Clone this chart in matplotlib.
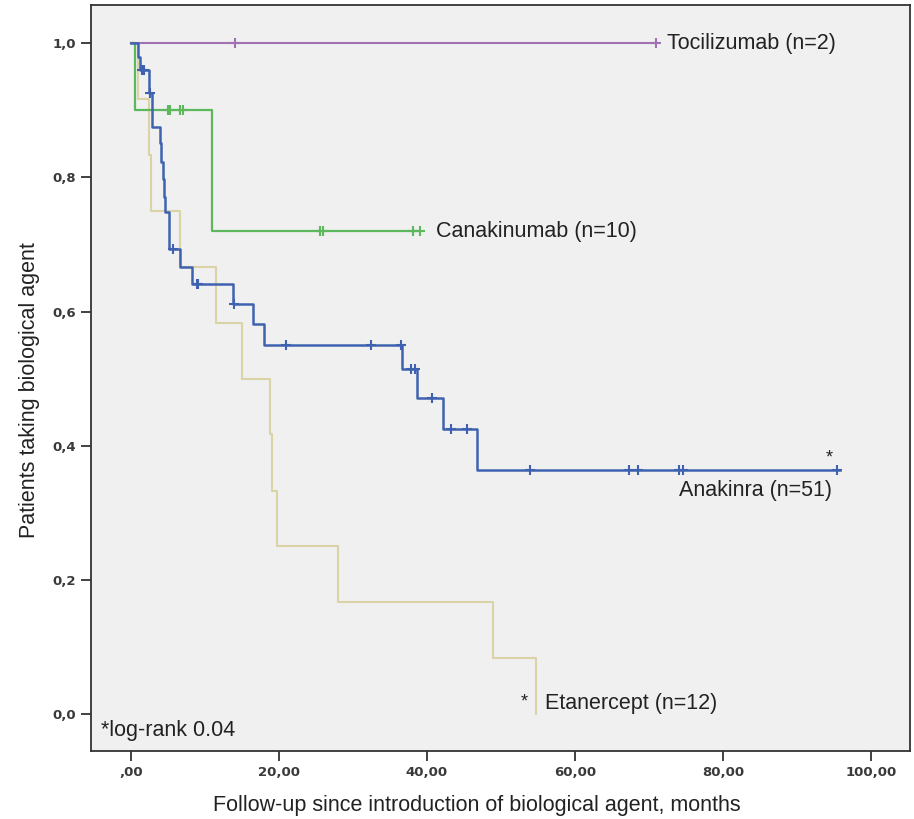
import numpy as np
import matplotlib
matplotlib.use("Agg")
import matplotlib.pyplot as plt

# ---- data (months, proportion still on drug)
toc_t = [0, 71.0]
toc_s = [1.0, 1.0]
toc_cens = [14.0, 71.0]

can_t = [0, 0.5, 10.9, 39.1]
can_s = [1.0, 0.9, 0.72, 0.72]
can_cens = [5.0, 5.3, 6.6, 7.1, 25.6, 25.9, 38.1, 39.1]

ana_t = [0, 0.9, 1.2, 2.5, 2.8, 3.9, 4.1, 4.3, 4.4, 4.6, 5.1, 6.6, 8.2,
         13.8, 16.5, 18.0, 36.6, 38.6, 42.2, 46.8, 95.8]
ana_s = [1.0, 0.98, 0.96, 0.926, 0.875, 0.851, 0.823, 0.797, 0.771, 0.748,
         0.694, 0.667, 0.641, 0.612, 0.581, 0.550, 0.514, 0.471, 0.425,
         0.364, 0.364]
ana_cens = [1.5, 1.7, 2.6, 5.7, 8.9, 9.1, 13.9, 21.0, 32.4, 36.5, 37.8,
            38.4, 40.7, 43.2, 45.4, 53.9, 67.3, 68.6, 74.1, 74.6, 95.4]

eta_t = [0, 1.0, 2.5, 2.7, 6.6, 11.5, 15.0, 18.8, 19.1, 19.7, 28.0, 48.9,
         54.8]
eta_s = [1.0, 0.917, 0.833, 0.75, 0.667, 0.583, 0.5, 0.417, 0.333, 0.25,
         0.167, 0.083, 0.0]

xticks = [0, 20, 40, 60, 80, 100]
xtick_labels = [",00", "20,00", "40,00", "60,00", "80,00", "100,00"]
yticks = [0.0, 0.2, 0.4, 0.6, 0.8, 1.0]
ytick_labels = ["0,0", "0,2", "0,4", "0,6", "0,8", "1,0"]

txt_font = ["Liberation Sans", "DejaVu Sans"]
fs = 15.5


def surv_at(times, surv, x):
    # value of the step function at time x
    i = np.searchsorted(times, x, side="right") - 1
    return np.asarray(surv)[i]


fig = plt.figure(figsize=(9.14, 8.19), dpi=100)
ax = fig.add_axes([91 / 914, 68 / 819, 819 / 914, 746 / 819])
ax.set_facecolor("#f0f0f0")

curves = [
    (eta_t, eta_s, None, "#d9d3a6", 1.5),
    (can_t, can_s, can_cens, "#5cb85a", 1.6),
    (toc_t, toc_s, toc_cens, "#a072b4", 1.5),
    (ana_t, ana_s, ana_cens, "#3f62b0", 1.8),
]
for t, s, cens, col, lw in curves:
    ax.step(t, s, where="post", color=col, lw=lw)
    if cens is not None:
        cy = [surv_at(t, s, c) for c in cens]
        ax.plot(cens, cy, ls="none", marker="+", ms=7, mew=1.5, color=col)

ax.set_xlim(-5.4, 105.3)
ax.set_ylim(-0.055, 1.057)
ax.set_xticks(xticks)
ax.set_xticklabels(xtick_labels)
ax.set_yticks(yticks)
ax.set_yticklabels(ytick_labels)
ax.tick_params(length=7, width=1.3, color="#333333", labelsize=9.5,
               labelcolor="#3a3a3a", pad=4)
for lab in ax.get_xticklabels() + ax.get_yticklabels():
    lab.set_fontweight("bold")
for sp in ax.spines.values():
    sp.set_color("#333333")
    sp.set_linewidth(1.3)

# curve labels
ax.text(72.4, 1.0, "Tocilizumab (n=2)", family=txt_font, fontsize=fs,
        va="center", color="#222222")
ax.text(41.2, 0.719, "Canakinumab (n=10)", family=txt_font, fontsize=fs,
        va="center", color="#222222")
ax.text(74.1, 0.333, "Anakinra (n=51)", family=txt_font, fontsize=fs,
        va="center", color="#222222")
ax.text(55.9, 0.016, "Etanercept (n=12)", family=txt_font, fontsize=fs,
        va="center", color="#222222")
ax.text(94.4, 0.375, "*", family=txt_font, fontsize=13, ha="center",
        va="baseline", color="#222222")
ax.text(53.2, 0.012, "*", family=txt_font, fontsize=13, ha="center",
        va="baseline", color="#222222")
ax.text(-4.1, -0.025, "*log-rank 0.04", family=txt_font, fontsize=fs,
        va="center", color="#222222")

fig.text(477 / 914, 14 / 819, "Follow-up since introduction of biological agent, months",
         family=txt_font, fontsize=fs, ha="center", va="center", color="#222222")
fig.text(30 / 914, 1 - 390 / 819, "Patients taking biological agent",
         family=txt_font, fontsize=fs, ha="center", va="center",
         rotation=90, color="#222222")

fig.savefig("out.png", dpi=100)
